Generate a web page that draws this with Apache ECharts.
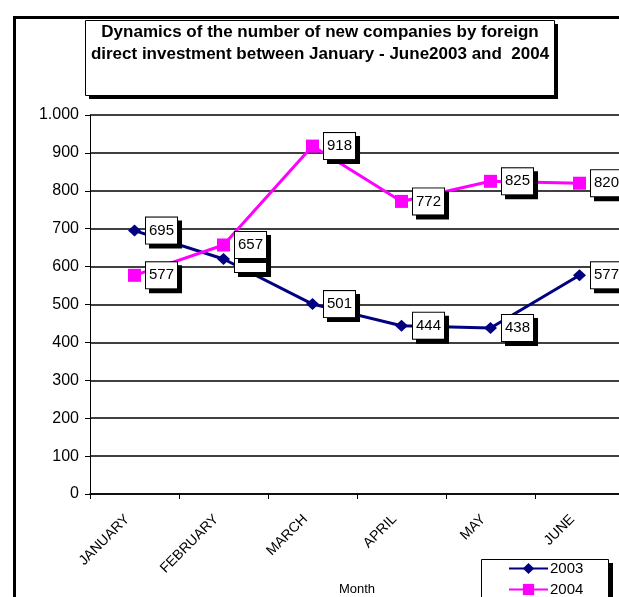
<!DOCTYPE html>
<html>
<head>
<meta charset="utf-8">
<script src="https://cdn.jsdelivr.net/npm/echarts@6/dist/echarts.min.js"></script>
<style>html,body{margin:0;padding:0;background:#fff}#c{width:619px;height:597px}</style>
</head>
<body>
<div id="c"></div>
<script>
const months = ['JANUARY', 'FEBRUARY', 'MARCH', 'APRIL', 'MAY', 'JUNE'];
const values2003 = [695, 620, 501, 444, 438, 577];
const values2004 = [577, 657, 918, 772, 825, 820];
const yTicks = [0, 100, 200, 300, 400, 500, 600, 700, 800, 900, 1000];
const titleLines = ['Dynamics of the number of new companies by foreign', 'direct investment between January - June2003 and  2004'];

const FONT = 'Arial, "Liberation Sans", sans-serif';
const chart = echarts.init(document.getElementById('c'));

const labelStyle = {
  show: true,
  position: 'right',
  distance: 5,
  color: '#000',
  fontFamily: FONT,
  fontSize: 15,
  backgroundColor: '#fff',
  borderColor: '#000',
  borderWidth: 1,
  padding: [6, 3, 5, 3],
  shadowColor: '#000',
  shadowOffsetX: 4,
  shadowOffsetY: 4,
  shadowBlur: 0
};

chart.setOption({
  animation: false,
  backgroundColor: '#fff',
  graphic: [
    {
      type: 'rect', left: 12, top: 15, z: 0,
      shape: { width: 700, height: 700 },
      style: { fill: 'none', stroke: '#000', lineWidth: 3 }
    },
    {
      type: 'rect', z: 10,
      shape: { x: 89, y: 24, width: 469, height: 75 },
      style: { fill: '#000' }
    },
    {
      type: 'rect', z: 11,
      shape: { x: 85.5, y: 20.5, width: 469, height: 75 },
      style: { fill: '#fff', stroke: '#000', lineWidth: 1 }
    },
    {
      type: 'text', z: 12,
      x: 320, y: 21,
      style: {
        text: titleLines.join('\n'),
        fontFamily: FONT, fontSize: 17, fontWeight: 'bold', fill: '#000',
        align: 'center', verticalAlign: 'top', lineHeight: 22
      }
    },
    {
      type: 'rect', z: 10,
      shape: { x: 485, y: 563, width: 128, height: 60 },
      style: { fill: '#000' }
    },
    {
      type: 'rect', z: 11,
      shape: { x: 481.5, y: 559.5, width: 127, height: 60 },
      style: { fill: '#fff', stroke: '#000', lineWidth: 1 }
    }
  ],
  legend: {
    orient: 'vertical',
    left: 508, top: 561,
    height: 80,
    padding: 0,
    itemGap: 6,
    itemWidth: 39, itemHeight: 14,
    z: 20,
    textStyle: { fontFamily: FONT, fontSize: 15, color: '#000', padding: [0, 0, 0, -3] },
    data: ['2003', '2004']
  },
  grid: { left: 90, right: -5, top: 115, bottom: 103, containLabel: false, outerBoundsMode: 'none' },
  xAxis: {
    type: 'category',
    data: months,
    boundaryGap: true,
    name: 'Month',
    nameLocation: 'middle',
    nameGap: 89,
    nameTextStyle: { fontFamily: FONT, fontSize: 13, color: '#000' },
    axisLine: { lineStyle: { color: '#000', width: 1.5 } },
    axisTick: { show: true, length: 5, lineStyle: { color: '#000' } },
    axisLabel: { rotate: 45, margin: 16, padding: [0, 10, 0, 0], fontFamily: FONT, fontSize: 14, color: '#000' }
  },
  yAxis: {
    type: 'value',
    min: yTicks[0],
    max: yTicks[yTicks.length - 1],
    interval: 100,
    axisLine: { show: true, lineStyle: { color: '#000', width: 1 } },
    axisTick: { show: true, length: 5, lineStyle: { color: '#000' } },
    axisLabel: {
      margin: 11,
      fontFamily: FONT, fontSize: 16, color: '#000',
      formatter: v => v >= 1000 ? Math.floor(v / 1000) + '.' + String(v % 1000).padStart(3, '0') : String(v)
    },
    splitLine: { show: true, lineStyle: { color: '#000', width: 1.5 } }
  },
  series: [
    {
      name: '2003', type: 'line', data: values2003, z: 2,
      symbol: 'diamond', symbolSize: [13, 12],
      lineStyle: { color: '#000080', width: 3 },
      itemStyle: { color: '#000080' },
      label: labelStyle
    },
    {
      name: '2004', type: 'line', data: values2004, z: 3,
      symbol: 'rect', symbolSize: 13,
      lineStyle: { color: '#ff00ff', width: 3 },
      itemStyle: { color: '#ff00ff' },
      label: labelStyle
    }
  ]
});
</script>
</body>
</html>
